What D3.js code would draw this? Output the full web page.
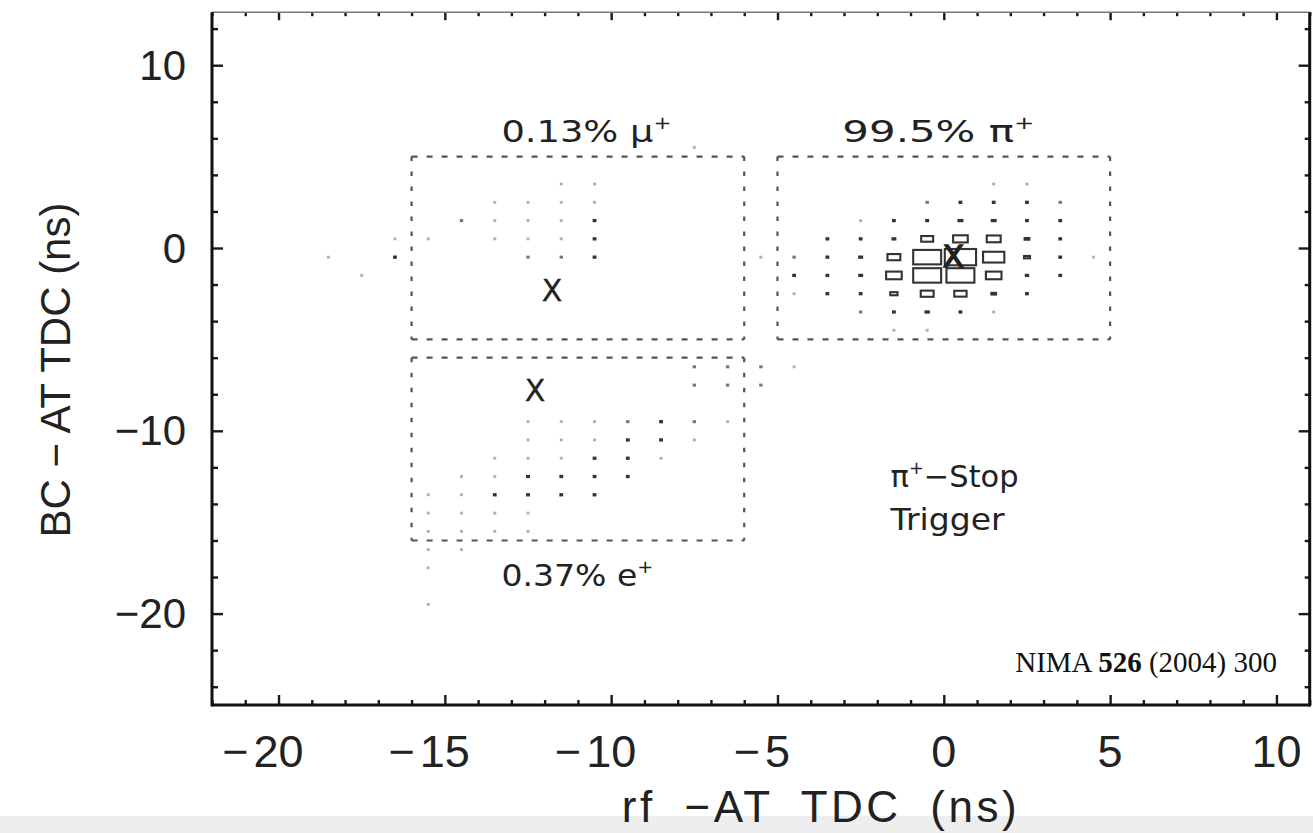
<!DOCTYPE html>
<html><head><meta charset="utf-8">
<script src="https://cdn.jsdelivr.net/npm/d3@7"></script>
<style>html,body{margin:0;padding:0;background:#fff;overflow:hidden}</style>
</head><body>
<svg id="chart" width="1313" height="833"></svg>
<script>
// ---------------- data ----------------
const xTicks = [-20, -15, -10, -5, 0, 5, 10];
const yTicks = [10, 0, -10, -20];
const xMinorTicks = [-22,-21,-19,-18,-17,-16,-14,-13,-12,-11,-9,-8,-7,-6,-4,-3,-2,-1,1,2,3,4,6,7,8,9,11];
const yMinorTicks = [12, 8, 6, 4, 2, -2, -4, -6, -8, -12, -14, -16, -18, -22, -24];

// gates (dashed boxes)
const gateX0 = [-16, -5, -16];
const gateX1 = [-6, 5, -6];
const gateY0 = [-5, -5, -16];
const gateY1 = [5, 5, -6];
const gatePct = ["0.13%", "99.5%", "0.37%"];
const gatePart = ["\u03bc", "\u03c0", "e"];

// centroid markers "X"
const markX = [-11.78, -12.29, 0.29];
const markY = [-2.3, -7.78, -0.45];

// 2D histogram cells: [x bin centre, y bin centre, counts]
const piCells = [
  [1.5,3.5,2],[2.5,3.5,2],
  [-0.5,2.5,3],[0.5,2.5,6],[1.5,2.5,6],[2.5,2.5,6],[3.5,2.5,3],
  [-2.5,1.5,2],[-1.5,1.5,6],[-0.5,1.5,14],[0.5,1.5,32],[1.5,1.5,32],[2.5,1.5,8],[3.5,1.5,6],
  [-3.5,0.5,6],[-2.5,0.5,8],[-1.5,0.5,22],[-0.5,0.5,176],[0.5,0.5,250],[1.5,0.5,230],[2.5,0.5,40],[3.5,0.5,6],
  [-5.5,-0.5,2],[-4.5,-0.5,4],[-3.5,-0.5,8],[-2.5,-0.5,22],[-1.5,-0.5,200],[-0.5,-0.5,810],[0.5,-0.5,1000],[1.5,-0.5,490],[2.5,-0.5,58],[3.5,-0.5,6],[4.5,-0.5,2],
  [-4.5,-1.5,6],[-3.5,-1.5,8],[-2.5,-1.5,22],[-1.5,-1.5,280],[-0.5,-1.5,810],[0.5,-1.5,810],[1.5,-1.5,280],[2.5,-1.5,17],[3.5,-1.5,6],
  [-4.5,-2.5,2],[-3.5,-2.5,6],[-2.5,-2.5,10],[-1.5,-2.5,78],[-0.5,-2.5,200],[0.5,-2.5,185],[1.5,-2.5,40],[2.5,-2.5,6],
  [-2.5,-3.5,3],[-1.5,-3.5,8],[-0.5,-3.5,26],[0.5,-3.5,8],[1.5,-3.5,2],
  [-1.5,-4.5,2],[-0.5,-4.5,2]
];
const muCells = [
  [-7.5,5.5,2],
  [-11.5,3.5,2],[-10.5,3.5,2],
  [-13.5,2.5,2],[-12.5,2.5,2],[-11.5,2.5,2],[-10.5,2.5,2],
  [-14.5,1.5,3],[-13.5,1.5,2],[-12.5,1.5,2],[-11.5,1.5,2],[-10.5,1.5,6],
  [-16.5,0.5,2],[-15.5,0.5,2],[-13.5,0.5,2],[-12.5,0.5,2],[-11.5,0.5,2],[-10.5,0.5,6],
  [-18.5,-0.5,2],[-16.5,-0.5,6],[-12.5,-0.5,4],[-11.5,-0.5,4],[-10.5,-0.5,6],
  [-17.5,-1.5,2]
];
const eCells = [
  [-7.5,-6.5,4],[-6.5,-6.5,4],[-5.5,-6.5,4],[-4.5,-6.5,2],
  [-7.5,-7.5,3],[-6.5,-7.5,4],[-5.5,-7.5,4],
  [-12.5,-9.5,2],[-11.5,-9.5,2],[-10.5,-9.5,2],[-9.5,-9.5,3],[-8.5,-9.5,6],[-7.5,-9.5,4],[-6.5,-9.5,2],
  [-12.5,-10.5,2],[-11.5,-10.5,2],[-10.5,-10.5,2],[-9.5,-10.5,6],[-8.5,-10.5,6],[-7.5,-10.5,2],
  [-13.5,-11.5,2],[-12.5,-11.5,2],[-11.5,-11.5,2],[-10.5,-11.5,6],[-9.5,-11.5,6],[-8.5,-11.5,2],
  [-14.5,-12.5,2],[-13.5,-12.5,2],[-12.5,-12.5,6],[-11.5,-12.5,6],[-10.5,-12.5,6],[-9.5,-12.5,6],
  [-15.5,-13.5,2],[-14.5,-13.5,2],[-13.5,-13.5,6],[-12.5,-13.5,6],[-11.5,-13.5,6],[-10.5,-13.5,6],
  [-15.5,-14.5,2],[-14.5,-14.5,2],[-13.5,-14.5,2],[-12.5,-14.5,2],
  [-15.5,-15.5,2],[-14.5,-15.5,2],[-13.5,-15.5,2],[-12.5,-15.5,2],
  [-15.5,-16.5,2],[-14.5,-16.5,2],
  [-15.5,-17.5,2],
  [-15.5,-19.5,2]
];

// ---------------- chart ----------------
const svg = d3.select("#chart");
const x = d3.scaleLinear().domain([-22, 11]).range([212, 1309.7]);
const y = d3.scaleLinear().domain([-25, 12.9]).range([705, 12.2]);
const X0 = x.range()[0], X1 = x.range()[1], Y0 = y.range()[0], Y1 = y.range()[1];

svg.append("rect").attr("x",0).attr("y",0).attr("width",1313).attr("height",833).attr("fill","#fff");
svg.append("rect").attr("x",0).attr("y",816).attr("width",1313).attr("height",17).attr("fill","#eeeeee");

const binW = x(1) - x(0), binH = y(0) - y(1);
const sz = d3.scaleSqrt().domain([0, 1000]).range([0, 1]);
const allCells = piCells.concat(muCells, eCells);
const cg = svg.append("g");
allCells.forEach(([cx, cy, n]) => {
  const px = x(cx), py = y(cy);
  const f = sz(n);
  let w = f * binW, h = f * binH;
  if (n <= 2) {
    cg.append("rect").attr("x", px-1.5).attr("y", py-1.4).attr("width", 3).attr("height", 2.8).attr("fill", "#b0b0b0");
  } else if (n <= 4) {
    cg.append("rect").attr("x", px-1.7).attr("y", py-1.5).attr("width", 3.4).attr("height", 3).attr("fill", "#777");
  } else if (w < 6) {
    w = Math.max(w, 3.8); h = Math.max(h, 3.3);
    cg.append("rect").attr("x", px-w/2).attr("y", py-h/2).attr("width", w).attr("height", h).attr("fill", "#333");
  } else {
    cg.append("rect").attr("x", px-w/2+1).attr("y", py-h/2+1).attr("width", w-2).attr("height", h-2)
      .attr("fill", "none").attr("stroke", "#333").attr("stroke-width", 2.1);
  }
});

// gates
const gg = svg.append("g").attr("stroke", "#555").attr("stroke-width", 2.2).attr("fill", "none");
gateX0.forEach((gx0, i) => {
  const a = x(gx0), b = x(gateX1[i]), t = y(gateY1[i]), btm = y(gateY0[i]);
  gg.append("line").attr("x1", a).attr("x2", b).attr("y1", t).attr("y2", t).attr("stroke-dasharray", "6,9");
  gg.append("line").attr("x1", a).attr("x2", b).attr("y1", btm).attr("y2", btm).attr("stroke-dasharray", "6,9");
  gg.append("line").attr("x1", a).attr("x2", a).attr("y1", t).attr("y2", btm).attr("stroke-dasharray", "4.5,10.5");
  gg.append("line").attr("x1", b).attr("x2", b).attr("y1", t).attr("y2", btm).attr("stroke-dasharray", "4.5,10.5");
});

// centroid markers
markX.forEach((mx, i) => {
  svg.append("text").attr("x", x(mx)).attr("y", y(markY[i]))
    .attr("text-anchor", "middle").attr("dominant-baseline", "central")
    .attr("font-family", "DejaVu Sans").attr("font-size", i === 2 ? 31 : 30).attr("fill", "#222")
    .attr("stroke", "#222").attr("stroke-width", i === 2 ? 1.4 : 0.3)
    .text("X");
});

// gate labels (left start x, baseline y in data units, width px)
const labPos = [[-13.3, 5.8, 170], [-3.05, 5.8, 192], [-13.3, -18.5, 152]];
gatePct.forEach((p, i) => {
  const t = svg.append("text").attr("x", x(labPos[i][0])).attr("y", y(labPos[i][1]))
    .attr("font-family", "DejaVu Sans").attr("font-size", 31).attr("fill", "#222")
    .attr("textLength", labPos[i][2]).attr("lengthAdjust", "spacingAndGlyphs");
  t.append("tspan").text(p + " " + gatePart[i]);
  t.append("tspan").attr("font-size", 18).attr("dy", -13).text("+");
});

// trigger label
const tr = svg.append("text").attr("x", x(-1.6)).attr("y", y(-13.1))
  .attr("font-family", "DejaVu Sans").attr("font-size", 31).attr("fill", "#222")
  .attr("textLength", 128).attr("lengthAdjust", "spacingAndGlyphs");
tr.append("tspan").text("\u03c0");
tr.append("tspan").attr("font-size", 18).attr("dy", -13).text("+");
tr.append("tspan").attr("dy", 13).text("\u2212Stop");
svg.append("text").attr("x", x(-1.6)).attr("y", y(-15.4))
  .attr("font-family", "DejaVu Sans").attr("font-size", 31).attr("fill", "#222")
  .attr("textLength", 114).attr("lengthAdjust", "spacingAndGlyphs").text("Trigger");

// citation
const nt = svg.append("text").attr("x", 1277).attr("y", 672).attr("text-anchor", "end")
  .attr("font-family", "Liberation Serif").attr("font-size", 29).attr("fill", "#111");
nt.append("tspan").text("NIMA ");
nt.append("tspan").attr("font-weight", "bold").text("526");
nt.append("tspan").text(" (2004) 300");

// ---------------- axes / frame ----------------
const axG = svg.append("g");
axG.append("g").attr("transform", `translate(0,${Y0})`)
  .call(d3.axisBottom(x).tickValues(xMinorTicks).tickSize(-5).tickFormat(""));
axG.append("g").attr("transform", `translate(0,${Y0})`)
  .call(d3.axisBottom(x).tickValues(xTicks).tickSize(-10).tickFormat(""));
axG.append("g").attr("transform", `translate(0,${Y1})`)
  .call(d3.axisTop(x).tickValues(xMinorTicks).tickSize(-4).tickFormat(""));
axG.append("g").attr("transform", `translate(0,${Y1})`)
  .call(d3.axisTop(x).tickValues(xTicks).tickSize(-8).tickFormat(""));
axG.append("g").attr("transform", `translate(${X0},0)`)
  .call(d3.axisLeft(y).tickValues(yMinorTicks).tickSize(-6).tickFormat(""));
axG.append("g").attr("transform", `translate(${X0},0)`)
  .call(d3.axisLeft(y).tickValues(yTicks).tickSize(-11).tickFormat(""));
axG.append("g").attr("transform", `translate(${X1},0)`)
  .call(d3.axisRight(y).tickValues(yMinorTicks).tickSize(-5).tickFormat(""));
axG.append("g").attr("transform", `translate(${X1},0)`)
  .call(d3.axisRight(y).tickValues(yTicks).tickSize(-11).tickFormat(""));
axG.selectAll(".domain").remove();
axG.selectAll(".tick line").attr("stroke", "#1a1a1a").attr("stroke-width", 2.4);

// frame
svg.append("line").attr("x1", X0).attr("x2", X1).attr("y1", Y1).attr("y2", Y1).attr("stroke", "#777").attr("stroke-width", 1.6);
svg.append("line").attr("x1", X0).attr("x2", X1).attr("y1", Y0).attr("y2", Y0).attr("stroke", "#111").attr("stroke-width", 3);
svg.append("line").attr("x1", X0).attr("x2", X0).attr("y1", Y1).attr("y2", Y0+1.5).attr("stroke", "#111").attr("stroke-width", 3);
svg.append("line").attr("x1", X1).attr("x2", X1).attr("y1", Y1).attr("y2", Y0+1.5).attr("stroke", "#111").attr("stroke-width", 3);

// x tick labels: digits centred on tick, minus hanging left
xTicks.forEach(v => {
  const t = svg.append("text").attr("x", x(v)).attr("y", 767).attr("text-anchor", "middle")
    .attr("font-family", "Liberation Sans").attr("font-size", 45).attr("fill", "#222")
    .text(String(Math.abs(v)));
  if (v < 0) {
    const w = t.node().getComputedTextLength();
    svg.append("text").attr("x", x(v) - w/2 - 5).attr("y", 767).attr("text-anchor", "end")
      .attr("font-family", "Liberation Sans").attr("font-size", 45).attr("fill", "#222").text("\u2212");
  }
});
// y tick labels
yTicks.forEach(v => {
  svg.append("text").attr("x", 186).attr("y", y(v)).attr("text-anchor", "end").attr("dominant-baseline", "central")
    .attr("font-family", "Liberation Sans").attr("font-size", 42).attr("fill", "#222")
    .text(v < 0 ? "\u2212" + Math.abs(v) : String(v));
});

// axis titles
svg.append("text").attr("x", 821).attr("y", 822).attr("text-anchor", "middle")
  .attr("font-family", "Liberation Sans").attr("font-size", 44).attr("fill", "#222")
  .attr("letter-spacing", 3.5).attr("word-spacing", 13)
  .text("rf \u2212AT TDC (ns)");
svg.append("text").attr("transform", "translate(70,370) rotate(-90)").attr("text-anchor", "middle")
  .attr("font-family", "Liberation Sans").attr("font-size", 42).attr("fill", "#222")
  .text("BC \u2212 AT TDC (ns)");
</script>
</body></html>
